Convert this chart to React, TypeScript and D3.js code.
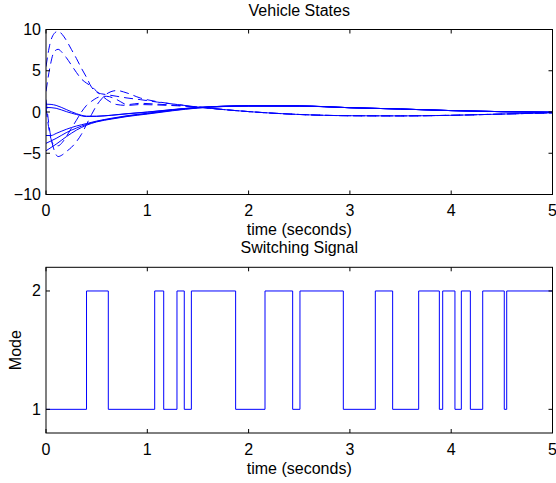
import React from "react";
import * as d3 from "d3";

// time grid for the position traces (solid)
const tPos = [0, 0.05, 0.1, 0.2, 0.3, 0.4, 0.5, 0.65, 0.8, 1, 1.25, 1.5, 2, 2.5, 3, 3.5, 4, 4.5, 5];
const pos1 = [0.95, 0.92, 0.8, 0.3, -0.2, -0.5, -0.52, -0.38, -0.2, 0, 0.3, 0.55, 0.75, 0.73, 0.52, 0.36, 0.17, 0.04, -0.03];
const pos2 = [0.55, 0.53, 0.45, 0.05, -0.3, -0.55, -0.52, -0.4, -0.22, -0.02, 0.28, 0.54, 0.75, 0.73, 0.52, 0.36, 0.17, 0.04, -0.03];
const pos3 = [-2.85, -2.85, -2.6, -2.1, -1.7, -1.4, -1.1, -0.75, -0.45, -0.15, 0.25, 0.55, 0.74, 0.73, 0.52, 0.36, 0.17, 0.04, -0.03];
const pos4 = [-3.8, -3.5, -3.2, -2.5, -1.95, -1.5, -1.15, -0.8, -0.5, -0.2, 0.2, 0.5, 0.73, 0.73, 0.52, 0.36, 0.17, 0.04, -0.03];
const pos5 = [-4.7, -4.3, -3.9, -3.0, -2.2, -1.6, -1.2, -0.85, -0.55, -0.25, 0.15, 0.48, 0.72, 0.73, 0.52, 0.36, 0.17, 0.04, -0.03];

// time grid for the velocity traces (dashed)
const tVel = [0, 0.04, 0.08, 0.12, 0.16, 0.2, 0.25, 0.3, 0.35, 0.4, 0.45, 0.5, 0.55, 0.6, 0.7, 0.8, 0.93, 1.1, 1.3, 1.5, 1.75, 2, 2.5, 3, 3.5, 4, 4.5, 5];
const vel1 = [5.5, 8.3, 9.5, 9.8, 9.4, 8.7, 7.6, 6.5, 5.3, 4.2, 3.0, 2.4, 2.2, 2.1, 1.9, 1.7, 1.5, 1.2, 0.9, 0.6, 0.3, 0.05, -0.3, -0.45, -0.47, -0.4, -0.25, -0.1];
const vel2 = [2.5, 5.5, 7.3, 7.6, 7.2, 6.6, 5.7, 4.8, 4.0, 3.5, 3.1, 2.5, 2.0, 1.5, 0.9, 0.8, 0.9, 0.85, 0.75, 0.6, 0.3, 0.05, -0.3, -0.45, -0.47, -0.4, -0.25, -0.1];
const vel3 = [1.5, -2.5, -4.6, -5.4, -5.2, -4.8, -4.3, -3.6, -2.7, -1.5, -0.3, 0.8, 1.6, 2.2, 2.6, 2.3, 1.7, 1.25, 0.9, 0.6, 0.3, 0.05, -0.3, -0.45, -0.47, -0.4, -0.25, -0.1];
const vel4 = [0.5, -2.8, -4.0, -4.1, -3.7, -3.0, -2.0, -1.0, 0.0, 0.8, 1.3, 1.7, 1.9, 1.9, 1.5, 0.9, 1.05, 0.95, 0.8, 0.6, 0.3, 0.05, -0.3, -0.45, -0.47, -0.4, -0.25, -0.1];

const positions = [pos1, pos2, pos3, pos4, pos5];
const velocities = [vel1, vel2, vel3, vel4];

// switching signal
const switchTimes = [0, 0.4, 0.615, 1.073, 1.162, 1.293, 1.365, 1.435, 1.872, 2.162, 2.435, 2.507, 2.935, 3.251, 3.422, 3.679, 3.883, 3.916, 4.037, 4.1, 4.189, 4.311, 4.524, 4.548, 5];
const modes = [1, 2, 1, 2, 1, 2, 1, 2, 1, 2, 1, 2, 1, 2, 1, 2, 1, 2, 1, 2, 1, 2, 1, 2, 1];

const xTicks = [0, 1, 2, 3, 4, 5];
const stateTicks = [-10, -5, 0, 5, 10];
const modeTicks = [1, 2];

const W = 556;
const H = 483;
const font = "'Liberation Sans', Arial, Helvetica, sans-serif";
const fs = 16;
const blue = "#0000ff";

const left = 46;
const right = 552.5;

const fmt = (v: number) => (v < 0 ? "\u2212" + Math.abs(v) : String(v));

function Frame({ x, y, xt, yt, top, bottom }: any) {
  const tl = 4;
  return (
    <g>
      <rect x={left} y={top} width={right - left} height={bottom - top} fill="none" stroke="#000" strokeWidth={1} />
      {xt.map((t: number) => (
        <g key={"x" + t}>
          <line x1={x(t)} x2={x(t)} y1={bottom} y2={bottom - tl} stroke="#000" />
          <line x1={x(t)} x2={x(t)} y1={top} y2={top + tl} stroke="#000" />
          <text x={x(t)} y={bottom + 21.5} textAnchor="middle" fontSize={fs} fontFamily={font}>{t}</text>
        </g>
      ))}
      {yt.map((t: number) => (
        <g key={"y" + t}>
          <line x1={left} x2={left + tl} y1={y(t)} y2={y(t)} stroke="#000" />
          <line x1={right} x2={right - tl} y1={y(t)} y2={y(t)} stroke="#000" />
          <text x={left - 5} y={y(t) + 5.5} textAnchor="end" fontSize={fs} fontFamily={font}>{fmt(t)}</text>
        </g>
      ))}
    </g>
  );
}

export default function App() {
  const x = d3.scaleLinear().domain([0, 5]).range([left, right]);

  const topT = 29.5;
  const topB = 194.5;
  const yS = d3.scaleLinear().domain([-10, 10]).range([topB, topT]);

  const botT = 267.3;
  const botB = 433;
  const yM = d3.scaleLinear().domain([0.8, 2.2]).range([botB, botT]);

  const lineS = (ts: number[]) =>
    d3.line<number>().x((_, i) => x(ts[i])).y((v) => yS(v)).curve(d3.curveMonotoneX);

  const stepLine = d3
    .line<number>()
    .x((_, i) => x(switchTimes[i]))
    .y((m) => yM(m))
    .curve(d3.curveStepAfter);

  return (
    <svg width={W} height={H} style={{ position: "absolute", left: 0, top: 0, background: "#fff" }}>
      <defs>
        <clipPath id="clipTop">
          <rect x={left} y={topT} width={right - left} height={topB - topT} />
        </clipPath>
      </defs>
      <g clipPath="url(#clipTop)">
        {positions.map((p, i) => (
          <path key={"p" + i} d={lineS(tPos)(p) || ""} fill="none" stroke={blue} strokeWidth={1} />
        ))}
        {velocities.map((v, i) => (
          <path key={"v" + i} d={lineS(tVel)(v) || ""} fill="none" stroke={blue} strokeWidth={1} strokeDasharray="9,5" />
        ))}
      </g>
      <Frame x={x} y={yS} xt={xTicks} yt={stateTicks} top={topT} bottom={topB} />
      <text x={(left + right) / 2} y={16} textAnchor="middle" fontSize={fs} fontFamily={font}>Vehicle States</text>
      <text x={(left + right) / 2} y={235} textAnchor="middle" fontSize={fs} fontFamily={font}>time (seconds)</text>

      <path d={stepLine(modes) || ""} fill="none" stroke={blue} strokeWidth={1} />
      <Frame x={x} y={yM} xt={xTicks} yt={modeTicks} top={botT} bottom={botB} />
      <text x={(left + right) / 2} y={253} textAnchor="middle" fontSize={fs} fontFamily={font}>Switching Signal</text>
      <text x={(left + right) / 2} y={474} textAnchor="middle" fontSize={fs} fontFamily={font}>time (seconds)</text>
      <text transform={`translate(20.5,${(botT + botB) / 2}) rotate(-90)`} textAnchor="middle" fontSize={fs} fontFamily={font}>Mode</text>
    </svg>
  );
}
